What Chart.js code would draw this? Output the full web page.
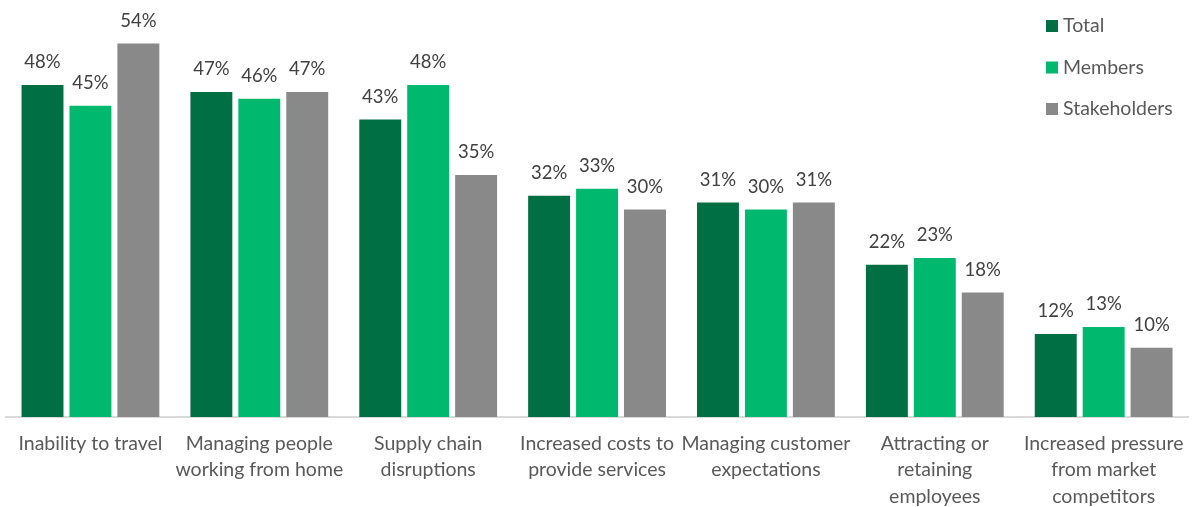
<!DOCTYPE html>
<html>
<head>
<meta charset="utf-8">
<script src="https://cdn.jsdelivr.net/npm/chart.js@4"></script>
<style>
  html, body { margin: 0; padding: 0; background: #fff; }
  #wrap { width: 1198px; height: 507px; position: relative; }
</style>
</head>
<body>
<div id="wrap"><canvas id="challengesChart"></canvas></div>
<script>
const categories = [
    ['Inability to travel'],
    ['Managing people', 'working from home'],
    ['Supply chain', 'disruptions'],
    ['Increased costs to', 'provide services'],
    ['Managing customer', 'expectations'],
    ['Attracting or', 'retaining', 'employees'],
    ['Increased pressure', 'from market', 'competitors']
];
const seriesNames = ['Total', 'Members', 'Stakeholders'];
const totalValues = [48, 47, 43, 32, 31, 22, 12];
const memberValues = [45, 46, 48, 33, 30, 23, 13];
const stakeholderValues = [54, 47, 35, 30, 31, 18, 10];
const seriesColors = ['#006f43', '#00b96e', '#898989'];

const FONT = 'Lato, "Open Sans", sans-serif';

// percentage labels above each bar
const valueLabels = {
    id: 'valueLabels',
    afterDatasetsDraw(chart) {
        const ctx = chart.ctx;
        ctx.save();
        ctx.font = '18.5px ' + FONT;
        ctx.fillStyle = '#404040';
        ctx.textAlign = 'center';
        ctx.textBaseline = 'alphabetic';
        chart.data.datasets.forEach(function(ds, i) {
            chart.getDatasetMeta(i).data.forEach(function(bar, j) {
                ctx.fillText(ds.data[j] + '%', bar.x, bar.y - 17);
            });
        });
        ctx.restore();
    }
};

// stacked legend in the top right corner
const cornerLegend = {
    id: 'cornerLegend',
    afterDraw(chart) {
        const ctx = chart.ctx;
        ctx.save();
        ctx.font = '19.5px ' + FONT;
        ctx.textBaseline = 'middle';
        ctx.textAlign = 'left';
        chart.data.datasets.forEach(function(ds, i) {
            const y = 26 + i * 41.5;
            ctx.fillStyle = ds.backgroundColor;
            ctx.fillRect(1046, y - 6, 12, 12);
            ctx.fillStyle = '#595959';
            ctx.fillText(ds.label, 1063, y);
        });
        ctx.restore();
    }
};

const ctx = document.getElementById('challengesChart').getContext('2d');
new Chart(ctx, {
    type: 'bar',
    data: {
        labels: categories,
        datasets: [
            { label: seriesNames[0], data: totalValues, backgroundColor: seriesColors[0] },
            { label: seriesNames[1], data: memberValues, backgroundColor: seriesColors[1] },
            { label: seriesNames[2], data: stakeholderValues, backgroundColor: seriesColors[2] }
        ]
    },
    options: {
        responsive: true,
        maintainAspectRatio: false,
        animation: false,
        categoryPercentage: 0.8515,
        barPercentage: 0.875,
        layout: {
            padding: { top: 2, left: 6, right: 8, bottom: 0 }
        },
        plugins: {
            legend: { display: false },
            tooltip: { enabled: false }
        },
        scales: {
            x: {
                grid: { display: false, drawTicks: false },
                border: { display: true, color: '#d9d9d9', width: 2 },
                ticks: {
                    color: '#595959',
                    font: { family: FONT, size: 19.5, lineHeight: 1.34 },
                    padding: 14,
                    maxRotation: 0,
                    autoSkip: false
                },
                afterFit(scale) {
                    scale.height = 90;
                }
            },
            y: {
                display: false,
                min: 0,
                max: 60
            }
        }
    },
    plugins: [valueLabels, cornerLegend]
});
</script>
</body>
</html>
